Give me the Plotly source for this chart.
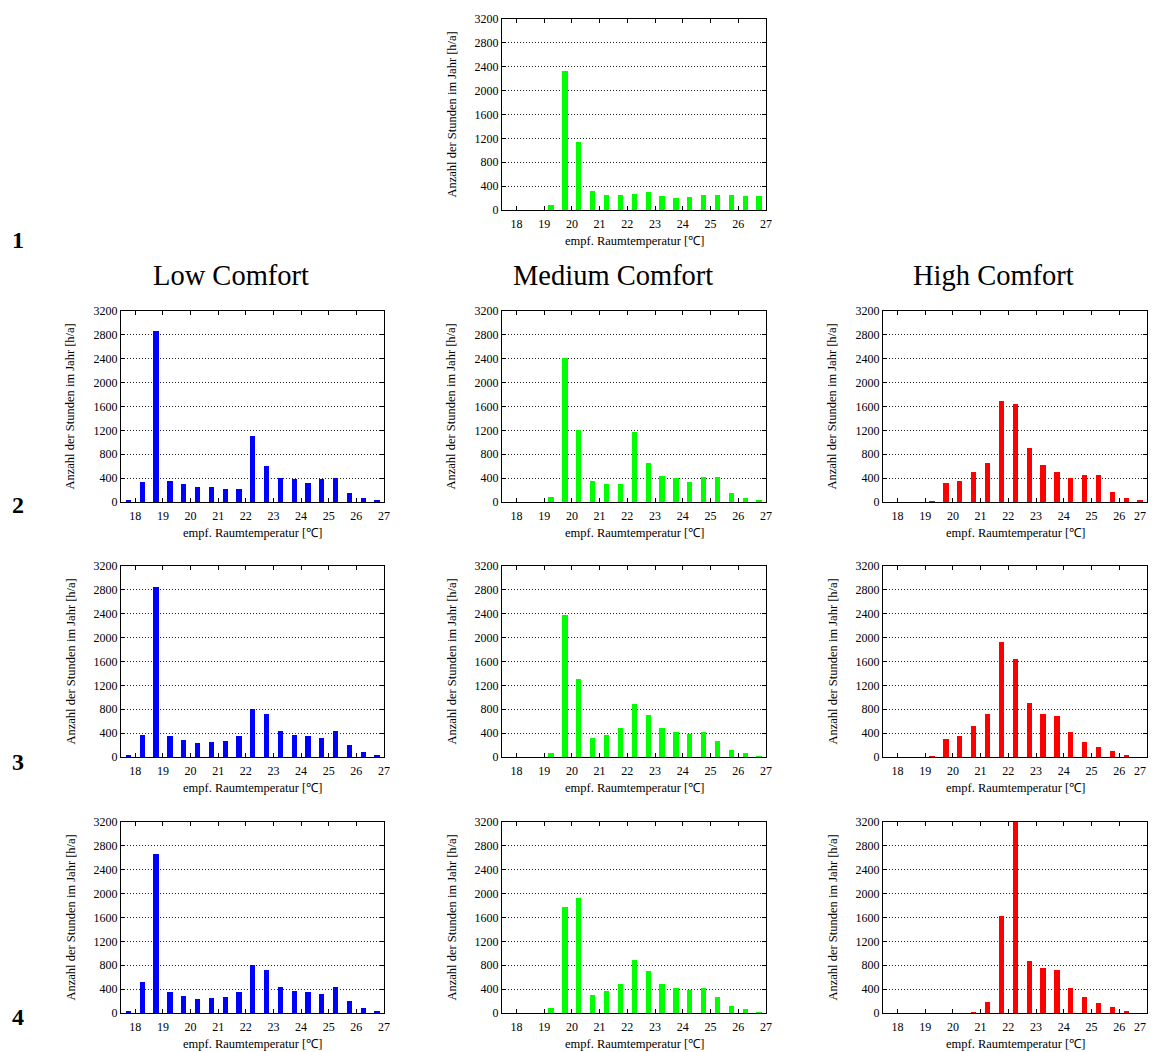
import plotly.graph_objects as go

# bin centres (empf. Raumtemperatur, °C)
bin_centers = [17.75, 18.25, 18.75, 19.25, 19.75, 20.25, 20.75, 21.25, 21.75, 22.25,
               22.75, 23.25, 23.75, 24.25, 24.75, 25.25, 25.75, 26.25, 26.75]

x_ticks = [18, 19, 20, 21, 22, 23, 24, 25, 26, 27]
y_ticks = [0, 400, 800, 1200, 1600, 2000, 2400, 2800, 3200]

row1_medium = [0, 0, 0, 80, 2330, 1140, 320, 255, 245, 270, 310, 230, 195, 220, 245, 245, 255, 240, 230]

row2_low = [35, 340, 2870, 360, 300, 250, 255, 210, 225, 1100, 600, 410, 380, 325, 390, 410, 145, 70, 20]
row2_medium = [0, 0, 0, 80, 2420, 1200, 355, 295, 300, 1170, 660, 440, 405, 330, 415, 420, 145, 70, 20]
row2_high = [0, 0, 0, 15, 320, 355, 500, 655, 1690, 1640, 905, 615, 505, 395, 455, 445, 160, 75, 20]

row3_low = [35, 365, 2850, 355, 280, 240, 250, 275, 345, 800, 725, 435, 365, 345, 320, 430, 200, 90, 30]
row3_medium = [0, 0, 0, 75, 2380, 1300, 320, 375, 485, 890, 710, 485, 420, 390, 420, 260, 115, 60, 10]
row3_high = [0, 0, 0, 15, 305, 345, 520, 715, 1930, 1640, 900, 725, 695, 420, 250, 165, 95, 30, 0]

row4_low = [35, 525, 2670, 355, 285, 240, 250, 275, 350, 800, 725, 435, 365, 345, 320, 430, 200, 90, 30]
row4_medium = [0, 0, 0, 80, 1770, 1920, 310, 375, 485, 890, 710, 485, 420, 385, 420, 260, 110, 60, 10]
row4_high = [0, 0, 0, 0, 0, 0, 10, 190, 1630, 3200, 875, 755, 715, 420, 260, 170, 95, 35, 0]

column_titles = ["Low Comfort", "Medium Comfort", "High Comfort"]
row_labels = ["1", "2", "3", "4"]
x_title = "empf. Raumtemperatur [℃]"
y_title = "Anzahl der Stunden im Jahr [h/a]"

colors = {"low": "#0000FF", "medium": "#00FF00", "high": "#FF0000"}

# the page body has an 8px margin, so the figure starts 8px in from the page corner
OFF = 8
W, H = 1156 - OFF, 1052 - OFF
FONT = "Liberation Serif, Times New Roman, serif"


def px_x(v):
    return (v - OFF) / W


def px_y(v):
    return 1 - (v - OFF) / H


# panel pixel geometry (page pixels): column x extents, row y extents
col_px = {"low": (121, 384), "medium": (502, 766), "high": (883, 1147)}
row_px = {1: (19, 210), 2: (311, 502), 3: (566, 757), 4: (822, 1013)}

panels = [
    (1, "medium", row1_medium),
    (2, "low", row2_low), (2, "medium", row2_medium), (2, "high", row2_high),
    (3, "low", row3_low), (3, "medium", row3_medium), (3, "high", row3_high),
    (4, "low", row4_low), (4, "medium", row4_medium), (4, "high", row4_high),
]

fig = go.Figure()
layout = {}
annotations = []
for i, (row, col, vals) in enumerate(panels, start=1):
    xa = "x" if i == 1 else f"x{i}"
    ya = "y" if i == 1 else f"y{i}"
    fig.add_trace(go.Bar(
        x=bin_centers, y=vals, width=0.19,
        marker=dict(color=colors[col], line=dict(width=0)),
        xaxis=xa, yaxis=ya, showlegend=False,
    ))
    x0, x1 = col_px[col]
    y0, y1 = row_px[row]
    xkey = "xaxis" if i == 1 else f"xaxis{i}"
    ykey = "yaxis" if i == 1 else f"yaxis{i}"
    ticktext = [str(t) for t in x_ticks]
    if col == "high":
        # last label sits at the page edge: drawn as text pulled slightly inward
        ticktext[-1] = ""
        annotations.append(dict(
            text=str(x_ticks[-1]), x=px_x(x1 - 7), y=px_y(y1 + 14), xref="paper", yref="paper",
            xanchor="center", yanchor="middle", showarrow=False,
            font=dict(family=FONT, size=12, color="black"),
        ))
    layout[xkey] = dict(
        domain=[px_x(x0), px_x(x1)], anchor=ya, range=[17.48, 27.0],
        tickvals=x_ticks, ticktext=ticktext,
        ticks="inside", ticklen=4, tickcolor="black",
        showline=True, linecolor="black", linewidth=1, mirror="ticks",
        showgrid=False, zeroline=False, ticklabelstandoff=3,
        ticklabeloverflow="allow",
        tickfont=dict(family=FONT, size=12, color="black"),
        automargin=False,
    )
    layout[ykey] = dict(
        domain=[px_y(y1), px_y(y0)], anchor=xa, range=[0, 3200],
        tickvals=y_ticks, ticktext=[str(t) for t in y_ticks],
        ticks="inside", ticklen=4, tickcolor="black",
        showline=True, linecolor="black", linewidth=1, mirror="ticks",
        showgrid=True, gridcolor="#222222", griddash="1px,2px", gridwidth=1,
        zeroline=False,
        tickfont=dict(family=FONT, size=12, color="black"),
        automargin=False,
    )
    # axis titles
    annotations.append(dict(
        text=x_title, x=px_x((x0 + x1) / 2), y=px_y(y1 + 31), xref="paper", yref="paper",
        xanchor="center", yanchor="middle", showarrow=False,
        font=dict(family=FONT, size=12.5, color="black"),
    ))
    annotations.append(dict(
        text=y_title, x=px_x(x0 - 51), y=px_y((y0 + y1) / 2), xref="paper", yref="paper",
        xanchor="center", yanchor="middle", showarrow=False, textangle=-90,
        font=dict(family=FONT, size=12.5, color="black"),
    ))

title_x = {"low": 231, "medium": 613, "high": 993}
for name, key in zip(column_titles, ["low", "medium", "high"]):
    annotations.append(dict(
        text=name, x=px_x(title_x[key]), y=px_y(276), xref="paper", yref="paper",
        xanchor="center", yanchor="middle", showarrow=False,
        font=dict(family=FONT, size=28.5, color="black"),
    ))
row_label_y = [240, 505, 762, 1017]
for lbl, yy in zip(row_labels, row_label_y):
    annotations.append(dict(
        text=f"<b>{lbl}</b>", x=px_x(18), y=px_y(yy), xref="paper", yref="paper",
        xanchor="center", yanchor="middle", showarrow=False,
        font=dict(family=FONT, size=24, color="black"),
    ))

fig.update_layout(
    width=W, height=H,
    margin=dict(l=0, r=0, t=0, b=0),
    paper_bgcolor="white", plot_bgcolor="white",
    bargap=0, annotations=annotations,
    **layout,
)

fig.write_html("out.html")
